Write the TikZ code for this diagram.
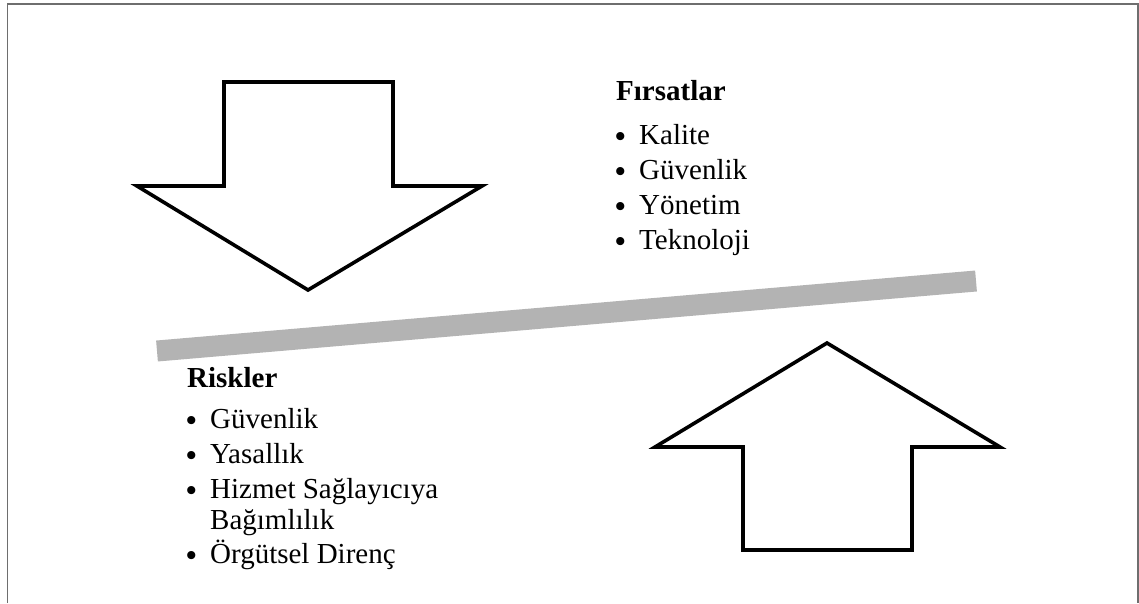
\documentclass[tikz,border=0pt]{standalone}
\usepackage{fontspec}
\setmainfont{Liberation Serif}
\definecolor{barcol}{HTML}{B3B3B3}
\definecolor{framecol}{HTML}{6E6E6E}
\tikzset{
  arrowshape/.style={draw=black, line width=3.6pt, fill=white, line join=miter},
  frameline/.style={draw=framecol, line width=1.6pt},
  tilt/.style={draw=barcol, line width=21pt, line cap=butt},
  heading/.style={anchor=base west, inner sep=0pt, font=\fontsize{29}{34}\selectfont\bfseries},
  itemtext/.style={anchor=base west, inner sep=0pt, font=\fontsize{29}{34}\selectfont},
  bul/.style={anchor=base west, inner sep=0pt, font=\fontsize{30}{34}\selectfont\bfseries},
}
\begin{document}
\begin{tikzpicture}[x=1pt,y=-1pt]
\useasboundingbox (0,0) rectangle (1139,603);
\fill[white] (0,0) rectangle (1139,603);
% frame (bottom edge lies outside the picture)
\draw[frameline] (7.5,603) -- (7.5,4) -- (1138,4) -- (1138,603);
% down arrow
\draw[arrowshape] (224,82) -- (393,82) -- (393,186) -- (482,186) -- (308,290) -- (137,186) -- (224,186) -- cycle;
% up arrow
\draw[arrowshape] (827,343) -- (1000,447) -- (912,447) -- (912,550) -- (743,550) -- (743,447) -- (655,447) -- cycle;
% tilted bar
\coordinate (barL) at (157,351);
\coordinate (barR) at (976,281);
\draw[tilt] (barL) -- (barR);
% Firsatlar
\node[heading] (fh) at (616,100) {Fırsatlar};
\node[bul] (fb1) at (615,146) {•};
\node[itemtext] (f1) at (639,144) {Kalite};
\node[bul] (fb2) at (615,181) {•};
\node[itemtext] (f2) at (639,179) {Güvenlik};
\node[bul] (fb3) at (615,216) {•};
\node[itemtext] (f3) at (639,214) {Yönetim};
\node[bul] (fb4) at (615,251) {•};
\node[itemtext] (f4) at (639,249) {Teknoloji};
% Riskler
\node[heading] (rh) at (187,387) {Riskler};
\node[bul] (rb1) at (186,430) {•};
\node[itemtext] (r1) at (210,428) {Güvenlik};
\node[bul] (rb2) at (186,465) {•};
\node[itemtext] (r2) at (210,463) {Yasallık};
\node[bul] (rb3) at (186,500) {•};
\node[itemtext] (r3) at (210,498) {Hizmet Sağlayıcıya};
\node[itemtext] (r3b) at (210,529) {Bağımlılık};
\node[bul] (rb4) at (186,565) {•};
\node[itemtext] (r4) at (210,563) {Örgütsel Direnç};
\end{tikzpicture}
\end{document}
